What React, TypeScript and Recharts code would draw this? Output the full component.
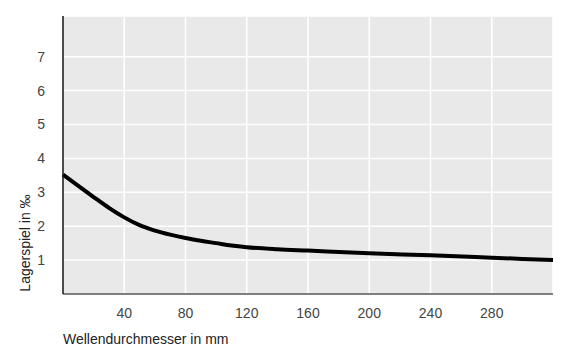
import { LineChart, Line, XAxis, YAxis, CartesianGrid, Label } from "recharts";

const diameters = [0, 10, 20, 30, 40, 50, 60, 70, 80, 90, 100, 110, 120, 140, 160, 200, 240, 280, 320];
const clearance = [3.52, 3.19, 2.86, 2.54, 2.26, 2.03, 1.87, 1.75, 1.65, 1.57, 1.5, 1.43, 1.38, 1.32, 1.28, 1.2, 1.14, 1.07, 1.0];
const xTicks = [40, 80, 120, 160, 200, 240, 280];
const yTicks = [1, 2, 3, 4, 5, 6, 7];

const data = diameters.map((d, i) => ({ d, c: clearance[i] }));

const font = "'Liberation Sans', Arial, sans-serif";

export default function App() {
  return (
    <div style={{ position: "absolute", left: 0, top: 0, fontFamily: font }}>
      <LineChart
        width={569}
        height={361}
        data={data}
        margin={{ top: 16, right: 16, bottom: 0, left: 0 }}
      >
        <CartesianGrid fill="#e9e9e9" stroke="#ffffff" strokeWidth={1.5} />
        <XAxis
          dataKey="d"
          type="number"
          domain={[0, 320]}
          ticks={xTicks}
          tickLine={false}
          axisLine={{ stroke: "#555", strokeWidth: 1.5 }}
          tick={{ fontSize: 14, fill: "#444", fontFamily: font }}
          tickMargin={8}
          height={67}
        >
          <Label
            content={() => (
              <text x={63} y={344} fontSize={14} fill="#222" fontFamily={font}>
                Wellendurchmesser in mm
              </text>
            )}
          />
        </XAxis>
        <YAxis
          type="number"
          domain={[0, 8.2]}
          ticks={yTicks}
          tickLine={false}
          axisLine={{ stroke: "#111", strokeWidth: 1.5 }}
          tick={{ fontSize: 14, fill: "#444", fontFamily: font }}
          tickMargin={12}
          width={63}
        >
          <Label
            content={() => (
              <text
                x={30}
                y={243}
                fontSize={14}
                fill="#222"
                fontFamily={font}
                textAnchor="middle"
                transform="rotate(-90 30 243)"
              >
                Lagerspiel in ‰
              </text>
            )}
          />
        </YAxis>
        <Line
          type="monotone"
          dataKey="c"
          stroke="#000"
          strokeWidth={4}
          dot={false}
          isAnimationActive={false}
        />
      </LineChart>
    </div>
  );
}
